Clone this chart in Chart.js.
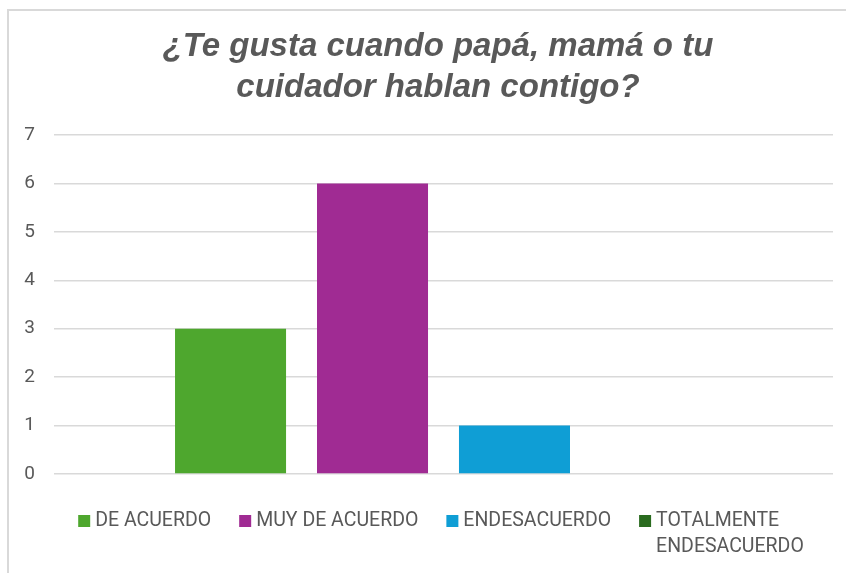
<!DOCTYPE html>
<html><head><meta charset="utf-8">
<script src="https://cdn.jsdelivr.net/npm/chart.js@4.4.1/dist/chart.umd.min.js"></script>
<style>
html,body{margin:0;padding:0;background:#fff;overflow:hidden;width:846px;height:573px;}
#frame{position:absolute;left:7px;top:9px;width:858px;height:600px;border-left:2px solid #d9d9d9;border-top:2px solid #d9d9d9;background:#fff;}
#c{display:block;}
</style></head><body>
<div id="frame"><canvas id="c" width="858" height="564"></canvas></div>
<script>
const titleLines = ['¿Te gusta cuando papá, mamá o tu', 'cuidador hablan contigo?'];
const categories = [''];
const seriesNames = ['DE ACUERDO', 'MUY DE ACUERDO', 'ENDESACUERDO', 'TOTALMENTE ENDESACUERDO'];
const seriesValues = [3, 6, 1, 0];
const seriesColors = ['#4EA72E', '#A02B93', '#0F9ED5', '#2A6B1F'];
const yMin = 0, yMax = 7, yStep = 1;

const TEXT = '#595959';

const legendPlugin = {
  id: 'customLegend',
  afterDraw(chart) {
    const ctx = chart.ctx;
    ctx.save();
    ctx.font = '19.5px Roboto';
    ctx.textBaseline = 'middle';
    ctx.textAlign = 'left';
    const box = 12, boxGap = 5, itemGap = 28, lineH = 26;
    const y0 = 510, centerX = 432;
    const W = chart.chartArea.right - chart.chartArea.left;
    const items = chart.data.datasets.map(ds => ({ lines: [ds.label], color: ds.backgroundColor }));
    const itemW = it => box + boxGap + Math.max(...it.lines.map(l => ctx.measureText(l).width));
    const total = () => items.reduce((s, it) => s + itemW(it), 0) + itemGap * (items.length - 1);
    while (total() > W) {
      const cands = items.filter(it => it.lines.length === 1 && it.lines[0].includes(' '));
      if (!cands.length) break;
      cands.sort((a, b) => itemW(b) - itemW(a));
      cands[0].lines = cands[0].lines[0].split(' ');
    }
    let x = centerX - total() / 2;
    items.forEach(it => {
      ctx.fillStyle = it.color;
      ctx.fillRect(x, y0 - box / 2, box, box);
      ctx.fillStyle = TEXT;
      it.lines.forEach((l, i) => ctx.fillText(l, x + box + boxGap, y0 + i * lineH));
      x += itemW(it) + itemGap;
    });
    ctx.restore();
  }
};

new Chart(document.getElementById('c'), {
  type: 'bar',
  data: {
    labels: categories,
    datasets: seriesNames.map((name, i) => ({
      label: name,
      data: [seriesValues[i]],
      backgroundColor: seriesColors[i],
      borderWidth: 0,
      categoryPercentage: 0.729,
      barPercentage: 0.782
    }))
  },
  options: {
    responsive: false,
    animation: false,
    layout: { padding: { top: 0, right: 0, bottom: 101, left: 0 } },
    plugins: {
      legend: { display: false },
      tooltip: { enabled: false },
      title: {
        display: true,
        text: titleLines,
        color: TEXT,
        font: { family: '"Liberation Sans", Arial, sans-serif', size: 33, weight: 'bold', style: 'italic', lineHeight: 1.25 },
        padding: { top: 15, bottom: 26.5 }
      }
    },
    scales: {
      x: { display: false },
      y: {
        min: yMin, max: yMax,
        ticks: { stepSize: yStep, color: TEXT, font: { family: 'Roboto', size: 19 }, padding: 19 },
        grid: { color: '#d9d9d9', lineWidth: 1.5, drawTicks: false },
        border: { display: false },
        afterFit(scale) { scale.width = 45; }
      },
      yRight: {
        position: 'right',
        min: yMin, max: yMax,
        ticks: { display: false },
        grid: { display: false, drawTicks: false },
        border: { display: false },
        afterFit(scale) { scale.width = 34; }
      }
    }
  },
  plugins: [legendPlugin]
});
</script>
</body></html>
